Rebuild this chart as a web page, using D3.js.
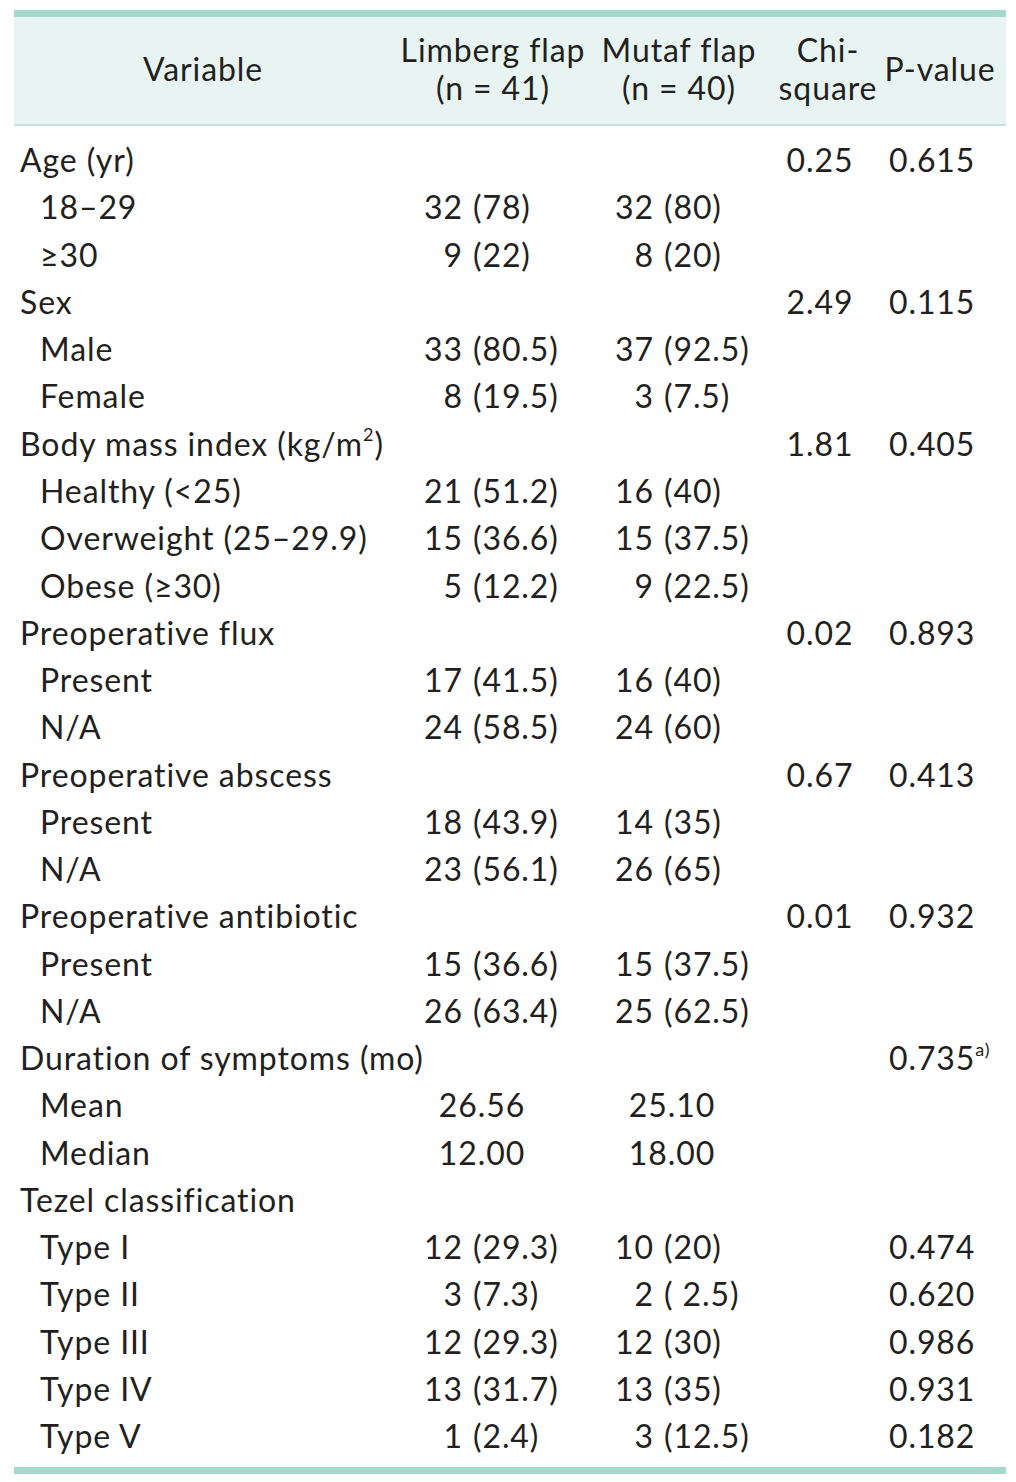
<!DOCTYPE html>
<html>
<head>
<meta charset="utf-8">
<script src="https://cdn.jsdelivr.net/npm/d3@7"></script>
<style>
  body { margin: 0; background: #fff; }
  svg text { font-family: Lato, "Noto Sans", sans-serif; fill: #231f20; letter-spacing: 0.9px; }
</style>
</head>
<body>
<div id="table"></div>
<script>
var width = 1016, height = 1482;

// table content
let variables = ["Age (yr)", "18–29", "≥30", "Sex", "Male", "Female",
  "Body mass index (kg/m", "Healthy (<25)", "Overweight (25–29.9)", "Obese (≥30)",
  "Preoperative flux", "Present", "N/A",
  "Preoperative abscess", "Present", "N/A",
  "Preoperative antibiotic", "Present", "N/A",
  "Duration of symptoms (mo)", "Mean", "Median",
  "Tezel classification", "Type I", "Type II", "Type III", "Type IV", "Type V"]
let levels = [0, 1, 1, 0, 1, 1, 0, 1, 1, 1, 0, 1, 1, 0, 1, 1, 0, 1, 1, 0, 1, 1, 0, 1, 1, 1, 1, 1]
let limbergN = [null, "32", "9", null, "33", "8", null, "21", "15", "5", null, "17", "24", null, "18", "23",
  null, "15", "26", null, "26.56", "12.00", null, "12", "3", "12", "13", "1"]
let limbergPct = [null, "78", "22", null, "80.5", "19.5", null, "51.2", "36.6", "12.2", null, "41.5", "58.5", null, "43.9", "56.1",
  null, "36.6", "63.4", null, null, null, null, "29.3", "7.3", "29.3", "31.7", "2.4"]
let mutafN = [null, "32", "8", null, "37", "3", null, "16", "15", "9", null, "16", "24", null, "14", "26",
  null, "15", "25", null, "25.10", "18.00", null, "10", "2", "12", "13", "3"]
let mutafPct = [null, "80", "20", null, "92.5", "7.5", null, "40", "37.5", "22.5", null, "40", "60", null, "35", "65",
  null, "37.5", "62.5", null, null, null, null, "20", " 2.5", "30", "35", "12.5"]
let chiSquare = ["0.25", null, null, "2.49", null, null, "1.81", null, null, null, "0.02", null, null, "0.67", null, null,
  "0.01", null, null, null, null, null, null, null, null, null, null, null]
let pValues = ["0.615", null, null, "0.115", null, null, "0.405", null, null, null, "0.893", null, null, "0.413", null, null,
  "0.932", null, null, "0.735", null, null, null, "0.474", "0.620", "0.986", "0.931", "0.182"]
let superscripts = { 6: "2", 19: "a)" }
let headers = [["Variable"], ["Limberg flap", "(n = 41)"], ["Mutaf flap", "(n = 40)"], ["Chi-", "square"], ["P-value"]]
let headerX = [203, 493, 679, 828, 940]

var fontSize = 32
var teal = "#a6d9ce"

var svg = d3.select("#table")
  .append("svg")
  .attr("width", width)
  .attr("height", height)

var y = d3.scalePoint()
  .domain(d3.range(variables.length))
  .range([161, 1437])

// header band
svg.append("rect").attr("x", 14).attr("y", 17).attr("width", 992).attr("height", 108).attr("fill", "#e7f4f1")
svg.append("rect").attr("x", 14).attr("y", 10).attr("width", 992).attr("height", 7).attr("fill", teal)
svg.append("rect").attr("x", 14).attr("y", 124).attr("width", 992).attr("height", 2).attr("fill", "#c2e4dc")
svg.append("rect").attr("x", 14).attr("y", 1467).attr("width", 992).attr("height", 7).attr("fill", teal)

headers.forEach((lines, i) => {
  let t = svg.append("text")
    .attr("x", headerX[i])
    .attr("text-anchor", "middle")
    .attr("font-size", fontSize)
  lines.forEach((line, j) => {
    t.append("tspan")
      .attr("x", headerX[i])
      .attr("y", lines.length == 1 ? 70 : 51 + j * 38)
      .attr("dy", "0.35em")
      .text(line)
  })
})

var rows = svg.selectAll("g.row")
  .data(variables)
  .enter()
  .append("g")
  .attr("class", "row")
  .attr("transform", (d, i) => "translate(0," + y(i) + ")")

function rowIndex(node) {
  return rows.nodes().indexOf(node.parentNode)
}

// variable names
rows.append("text")
  .attr("x", (d, i) => levels[i] == 0 ? 20 : 40)
  .attr("dy", "0.35em")
  .attr("font-size", fontSize)
  .each(function (d, i) {
    let t = d3.select(this)
    t.append("tspan").text(d)
    if (i == 6) {
      t.append("tspan").attr("font-size", 18).attr("dy", "-0.8em").text(superscripts[i])
      t.append("tspan").attr("dy", "0.45em").text(")")
    }
  })

// count + percentage columns
function cellColumn(counts, pcts, countRight, meanCenter) {
  rows.filter((d, i) => counts[i] != null && pcts[i] != null)
    .append("text")
    .attr("x", countRight)
    .attr("dy", "0.35em")
    .attr("text-anchor", "end")
    .attr("font-size", fontSize)
    .text(function () { return counts[rowIndex(this)] })
  rows.filter((d, i) => pcts[i] != null)
    .append("text")
    .attr("x", countRight + 10)
    .attr("dy", "0.35em")
    .attr("font-size", fontSize)
    .style("white-space", "pre")
    .text(function () { return "(" + pcts[rowIndex(this)] + ")" })
  rows.filter((d, i) => counts[i] != null && pcts[i] == null)
    .append("text")
    .attr("x", meanCenter)
    .attr("dy", "0.35em")
    .attr("text-anchor", "middle")
    .attr("font-size", fontSize)
    .text(function () { return counts[rowIndex(this)] })
}

cellColumn(limbergN, limbergPct, 463, 482)
cellColumn(mutafN, mutafPct, 654, 672)

rows.filter((d, i) => chiSquare[i] != null)
  .append("text")
  .attr("x", 820)
  .attr("dy", "0.35em")
  .attr("text-anchor", "middle")
  .attr("font-size", fontSize)
  .text(function () { return chiSquare[rowIndex(this)] })

rows.filter((d, i) => pValues[i] != null)
  .append("text")
  .attr("x", 889)
  .attr("dy", "0.35em")
  .attr("font-size", fontSize)
  .each(function () {
    let i = rowIndex(this)
    let t = d3.select(this)
    t.append("tspan").text(pValues[i])
    if (i == 19) {
      t.append("tspan").attr("font-size", 18).attr("dy", "-0.8em").text(superscripts[i])
    }
  })
</script>
</body>
</html>
